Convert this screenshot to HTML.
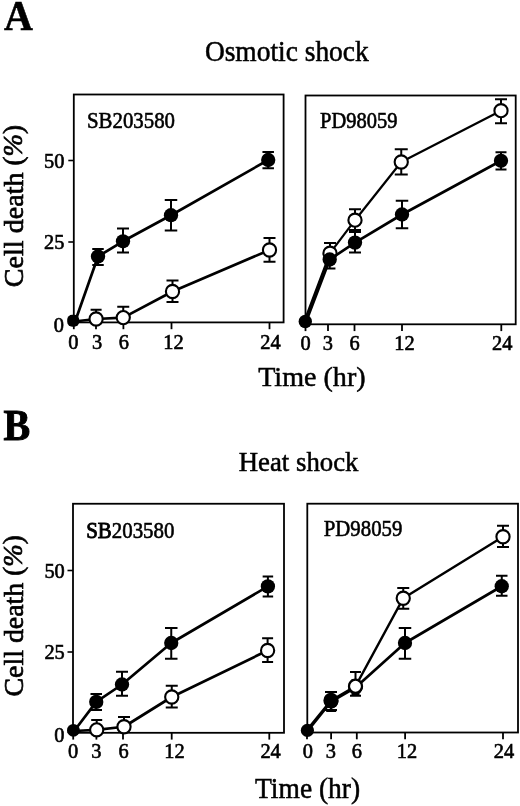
<!DOCTYPE html>
<html><head><meta charset="utf-8"><title>Figure</title>
<style>html,body{margin:0;padding:0;background:#fff}svg{display:block}</style>
</head><body>
<svg width="520" height="806" viewBox="0 0 520 806" font-family="'Liberation Serif', 'Times New Roman', serif" fill="#000">
<rect width="520" height="806" fill="#fff"/>
<text transform="translate(4 30) scale(1 1.08)" font-size="40" text-anchor="start" font-weight="bold" stroke="#000" stroke-width="0.5">A</text>
<text transform="translate(286.8 61.1) scale(1 1.05)" font-size="27.45" text-anchor="middle" stroke="#000" stroke-width="0.5">Osmotic shock</text>
<text transform="translate(22.9 206.1) rotate(-90) scale(1 1.0)" font-size="28.1" text-anchor="middle" stroke="#000" stroke-width="0.7">Cell death <tspan font-size="27" dy="-0.9">(</tspan><tspan font-size="27" font-style="italic">%</tspan><tspan font-size="27">)</tspan></text>
<text transform="translate(311.9 386.1) scale(1 0.96)" font-size="28.1" text-anchor="middle" stroke="#000" stroke-width="0.5">Time (hr)</text>
<rect x="73.8" y="94.5" width="209.8" height="227.89999999999998" fill="none" stroke="#000" stroke-width="1.8"/>
<line x1="68.3" y1="160.5" x2="73.8" y2="160.5" stroke="#000" stroke-width="1.6"/>
<text transform="translate(64.4 167.9) scale(1 1.07)" font-size="20.4" text-anchor="end" stroke="#000" stroke-width="0.6">50</text>
<line x1="68.3" y1="242" x2="73.8" y2="242" stroke="#000" stroke-width="1.6"/>
<text transform="translate(64.4 249.4) scale(1 1.07)" font-size="20.4" text-anchor="end" stroke="#000" stroke-width="0.6">25</text>
<line x1="68.3" y1="322" x2="73.8" y2="322" stroke="#000" stroke-width="1.6"/>
<text transform="translate(64.0 331.59999999999997) scale(1 1.07)" font-size="20.4" text-anchor="end" stroke="#000" stroke-width="0.6">0</text>
<line x1="73.8" y1="322.4" x2="73.8" y2="329.2" stroke="#000" stroke-width="1.8"/>
<text transform="translate(73.3 349.1) scale(1 1.06)" font-size="20.4" text-anchor="middle" stroke="#000" stroke-width="0.6">0</text>
<line x1="96" y1="322.4" x2="96" y2="329.2" stroke="#000" stroke-width="1.8"/>
<text transform="translate(97.1 349.1) scale(1 1.06)" font-size="20.4" text-anchor="middle" stroke="#000" stroke-width="0.6">3</text>
<line x1="123.4" y1="322.4" x2="123.4" y2="329.2" stroke="#000" stroke-width="1.8"/>
<text transform="translate(123.85 349.1) scale(1 1.06)" font-size="20.4" text-anchor="middle" stroke="#000" stroke-width="0.6">6</text>
<line x1="171.5" y1="322.4" x2="171.5" y2="329.2" stroke="#000" stroke-width="1.8"/>
<text transform="translate(173.5 349.1) scale(1 1.06)" font-size="20.4" text-anchor="middle" stroke="#000" stroke-width="0.6">12</text>
<line x1="269.5" y1="322.4" x2="269.5" y2="329.2" stroke="#000" stroke-width="1.8"/>
<text transform="translate(270.5 349.1) scale(1 1.06)" font-size="20.4" text-anchor="middle" stroke="#000" stroke-width="0.6">24</text>
<text transform="translate(87 128) scale(1 1.12)" font-size="20.85" text-anchor="start" stroke="#000" stroke-width="0.55">SB203580</text>
<path d="M96.1 309.8V319M90.6 309.8H101.6" stroke="#000" stroke-width="2.0" fill="none"/>
<path d="M123.25 306.75V317.6M117.25 306.75H129.25" stroke="#000" stroke-width="2.0" fill="none"/>
<path d="M172.5 280.5V302M166.5 280.5H178.5M166.5 302H178.5" stroke="#000" stroke-width="2.0" fill="none"/>
<path d="M269.5 238V261.7M263.5 238H275.5M263.5 261.7H275.5" stroke="#000" stroke-width="2.0" fill="none"/>
<path d="M74 321.5 L96.1 319 L123.25 317.6 L172.5 291.5 L269.5 250" stroke="#000" stroke-width="2.7" fill="none" stroke-linejoin="round"/>
<circle cx="96.1" cy="319" r="6.6000000000000005" fill="#fff" stroke="#000" stroke-width="2.1"/>
<circle cx="123.25" cy="317.6" r="6.6000000000000005" fill="#fff" stroke="#000" stroke-width="2.1"/>
<circle cx="172.5" cy="291.5" r="6.6000000000000005" fill="#fff" stroke="#000" stroke-width="2.1"/>
<circle cx="269.5" cy="250" r="6.6000000000000005" fill="#fff" stroke="#000" stroke-width="2.1"/>
<path d="M98 248.9V264.9M92.25 248.9H103.75M92.25 264.9H103.75" stroke="#000" stroke-width="2.0" fill="none"/>
<path d="M123 228.5V252.6M117.0 228.5H129.0M117.0 252.6H129.0" stroke="#000" stroke-width="2.0" fill="none"/>
<path d="M171 200V230.6M164.75 200H177.25M164.75 230.6H177.25" stroke="#000" stroke-width="2.0" fill="none"/>
<path d="M268.2 152V168.3M262.45 152H273.95M262.45 168.3H273.95" stroke="#000" stroke-width="2.0" fill="none"/>
<path d="M75.3 321 L98 256.5 L123 241.3 L171 215.2 L268.2 160" stroke="#000" stroke-width="2.7" fill="none" stroke-linejoin="round"/>
<circle cx="98" cy="256.5" r="7.15" fill="#000"/>
<circle cx="123" cy="241.3" r="7.15" fill="#000"/>
<circle cx="171" cy="215.2" r="7.15" fill="#000"/>
<circle cx="268.2" cy="160" r="7.15" fill="#000"/>
<rect x="67.2" y="314.8" width="12" height="12" rx="5" fill="#000"/>
<rect x="305.5" y="95.5" width="210.20000000000005" height="228.8" fill="none" stroke="#000" stroke-width="1.8"/>
<line x1="305.5" y1="324.3" x2="305.5" y2="331.1" stroke="#000" stroke-width="1.8"/>
<text transform="translate(305.5 350.2) scale(1 1.06)" font-size="20.4" text-anchor="middle" stroke="#000" stroke-width="0.6">0</text>
<line x1="328" y1="324.3" x2="328" y2="331.1" stroke="#000" stroke-width="1.8"/>
<text transform="translate(327.8 350.2) scale(1 1.06)" font-size="20.4" text-anchor="middle" stroke="#000" stroke-width="0.6">3</text>
<line x1="354.5" y1="324.3" x2="354.5" y2="331.1" stroke="#000" stroke-width="1.8"/>
<text transform="translate(354.5 350.2) scale(1 1.06)" font-size="20.4" text-anchor="middle" stroke="#000" stroke-width="0.6">6</text>
<line x1="402" y1="324.3" x2="402" y2="331.1" stroke="#000" stroke-width="1.8"/>
<text transform="translate(404.4 350.2) scale(1 1.06)" font-size="20.4" text-anchor="middle" stroke="#000" stroke-width="0.6">12</text>
<line x1="501.3" y1="324.3" x2="501.3" y2="331.1" stroke="#000" stroke-width="1.8"/>
<text transform="translate(502.2 350.2) scale(1 1.06)" font-size="20.4" text-anchor="middle" stroke="#000" stroke-width="0.6">24</text>
<text transform="translate(320 128) scale(1 1.12)" font-size="20.5" text-anchor="start" stroke="#000" stroke-width="0.55">PD98059</text>
<path d="M330 243V262M324.0 243H336.0M324.0 262H336.0" stroke="#000" stroke-width="2.0" fill="none"/>
<path d="M355 209.25V230M349.0 209.25H361.0M349.0 230H361.0" stroke="#000" stroke-width="2.0" fill="none"/>
<path d="M401.25 149.25V174.5M394.75 149.25H407.75M394.75 174.5H407.75" stroke="#000" stroke-width="2.0" fill="none"/>
<path d="M501 99.2V123.2M495.0 99.2H507.0M495.0 123.2H507.0" stroke="#000" stroke-width="2.0" fill="none"/>
<path d="M304.3 321.5 L330 253.2 L355 220.2 L401.25 162 L501 110.7" stroke="#000" stroke-width="2.2" fill="none" stroke-linejoin="round"/>
<circle cx="330" cy="253.2" r="6.6000000000000005" fill="#fff" stroke="#000" stroke-width="2.1"/>
<circle cx="355" cy="220.2" r="6.6000000000000005" fill="#fff" stroke="#000" stroke-width="2.1"/>
<circle cx="401.25" cy="162" r="6.6000000000000005" fill="#fff" stroke="#000" stroke-width="2.1"/>
<circle cx="501" cy="110.7" r="6.6000000000000005" fill="#fff" stroke="#000" stroke-width="2.1"/>
<path d="M329.7 256V268.4M323.95 256H335.45M323.95 268.4H335.45" stroke="#000" stroke-width="2.0" fill="none"/>
<path d="M355 232V252.5M349.0 232H361.0M349.0 252.5H361.0" stroke="#000" stroke-width="2.0" fill="none"/>
<path d="M402 200.75V228.25M395.75 200.75H408.25M395.75 228.25H408.25" stroke="#000" stroke-width="2.0" fill="none"/>
<path d="M501 152.2V169.5M495.5 152.2H506.5M495.5 169.5H506.5" stroke="#000" stroke-width="2.0" fill="none"/>
<path d="M306.3 321 L329.7 259.5 L355 242.6 L402 214.5 L501 160.8" stroke="#000" stroke-width="2.7" fill="none" stroke-linejoin="round"/>
<circle cx="329.7" cy="259.5" r="7.15" fill="#000"/>
<circle cx="355" cy="242.6" r="7.15" fill="#000"/>
<circle cx="402" cy="214.5" r="7.15" fill="#000"/>
<circle cx="501" cy="160.8" r="7.15" fill="#000"/>
<circle cx="305.3" cy="321.5" r="6.7" fill="#000"/>
<text transform="translate(3.6 440.3) scale(1 1.085)" font-size="40" text-anchor="start" font-weight="bold" stroke="#000" stroke-width="0.9">B</text>
<text transform="translate(298.6 470.8) scale(1 1.0)" font-size="26.75" text-anchor="middle" stroke="#000" stroke-width="0.5">Heat shock</text>
<text transform="translate(22.9 615.9) rotate(-90) scale(1 1.0)" font-size="27.85" text-anchor="middle" stroke="#000" stroke-width="0.7">Cell death <tspan font-size="27" dy="-0.9">(</tspan><tspan font-size="27" font-style="italic">%</tspan><tspan font-size="27">)</tspan></text>
<text transform="translate(307.6 798.4) scale(1 1.06)" font-size="27.5" text-anchor="middle" stroke="#000" stroke-width="0.5">Time (hr)</text>
<rect x="73.0" y="503.75" width="211.0" height="229.04999999999995" fill="none" stroke="#000" stroke-width="1.8"/>
<line x1="67.5" y1="570.5" x2="73.0" y2="570.5" stroke="#000" stroke-width="1.6"/>
<text transform="translate(64.8 577.9) scale(1 1.07)" font-size="20.4" text-anchor="end" stroke="#000" stroke-width="0.6">50</text>
<line x1="67.5" y1="652" x2="73.0" y2="652" stroke="#000" stroke-width="1.6"/>
<text transform="translate(64.8 659.4) scale(1 1.07)" font-size="20.4" text-anchor="end" stroke="#000" stroke-width="0.6">25</text>
<line x1="67.5" y1="732" x2="73.0" y2="732" stroke="#000" stroke-width="1.6"/>
<text transform="translate(64.4 742.0) scale(1 1.07)" font-size="20.4" text-anchor="end" stroke="#000" stroke-width="0.6">0</text>
<line x1="73.2" y1="732.8" x2="73.2" y2="739.5999999999999" stroke="#000" stroke-width="1.8"/>
<text transform="translate(73.2 758.4) scale(1 1.06)" font-size="20.4" text-anchor="middle" stroke="#000" stroke-width="0.6">0</text>
<line x1="96.4" y1="732.8" x2="96.4" y2="739.5999999999999" stroke="#000" stroke-width="1.8"/>
<text transform="translate(96.4 758.4) scale(1 1.06)" font-size="20.4" text-anchor="middle" stroke="#000" stroke-width="0.6">3</text>
<line x1="123" y1="732.8" x2="123" y2="739.5999999999999" stroke="#000" stroke-width="1.8"/>
<text transform="translate(123.5 758.4) scale(1 1.06)" font-size="20.4" text-anchor="middle" stroke="#000" stroke-width="0.6">6</text>
<line x1="171.7" y1="732.8" x2="171.7" y2="739.5999999999999" stroke="#000" stroke-width="1.8"/>
<text transform="translate(174.4 758.4) scale(1 1.06)" font-size="20.4" text-anchor="middle" stroke="#000" stroke-width="0.6">12</text>
<line x1="269.3" y1="732.8" x2="269.3" y2="739.5999999999999" stroke="#000" stroke-width="1.8"/>
<text transform="translate(270.6 758.4) scale(1 1.06)" font-size="20.4" text-anchor="middle" stroke="#000" stroke-width="0.6">24</text>
<text transform="translate(86.2 537.5) scale(1 1.08)" font-size="20.9" text-anchor="start" stroke="#000" stroke-width="0.55"><tspan stroke-width="0.85">SB</tspan>203580</text>
<path d="M96.7 720.0V729.8M91.2 720.0H102.2" stroke="#000" stroke-width="2.0" fill="none"/>
<path d="M124 717V726.75M118.0 717H130.0" stroke="#000" stroke-width="2.0" fill="none"/>
<path d="M171.75 685.75V707.5M165.75 685.75H177.75M165.75 707.5H177.75" stroke="#000" stroke-width="2.0" fill="none"/>
<path d="M267.6 638.2V662M262.1 638.2H273.1M262.1 662H273.1" stroke="#000" stroke-width="2.0" fill="none"/>
<path d="M74 731 L96.7 729.8 L124 726.75 L171.75 697 L267.6 650.5" stroke="#000" stroke-width="2.7" fill="none" stroke-linejoin="round"/>
<circle cx="96.7" cy="729.8" r="6.6000000000000005" fill="#fff" stroke="#000" stroke-width="2.1"/>
<circle cx="124" cy="726.75" r="6.6000000000000005" fill="#fff" stroke="#000" stroke-width="2.1"/>
<circle cx="171.75" cy="697" r="6.6000000000000005" fill="#fff" stroke="#000" stroke-width="2.1"/>
<circle cx="267.6" cy="650.5" r="6.6000000000000005" fill="#fff" stroke="#000" stroke-width="2.1"/>
<path d="M96.25 694V710M90.5 694H102.0M90.5 710H102.0" stroke="#000" stroke-width="2.0" fill="none"/>
<path d="M122 671.75V695.75M116.0 671.75H128.0M116.0 695.75H128.0" stroke="#000" stroke-width="2.0" fill="none"/>
<path d="M171.25 628V658.75M165.0 628H177.5M165.0 658.75H177.5" stroke="#000" stroke-width="2.0" fill="none"/>
<path d="M267.9 576.4V596.6M262.65 576.4H273.15M262.65 596.6H273.15" stroke="#000" stroke-width="2.0" fill="none"/>
<path d="M74.5 730.5 L96.25 701.9 L122 684.5 L171.25 643 L267.9 586.4" stroke="#000" stroke-width="2.7" fill="none" stroke-linejoin="round"/>
<circle cx="96.25" cy="701.9" r="7.15" fill="#000"/>
<circle cx="122" cy="684.5" r="7.15" fill="#000"/>
<circle cx="171.25" cy="643" r="7.15" fill="#000"/>
<circle cx="267.9" cy="586.4" r="7.15" fill="#000"/>
<circle cx="73.4" cy="730.3" r="6.4" fill="#000"/>
<rect x="307.3" y="503.7" width="210.7" height="228.8" fill="none" stroke="#000" stroke-width="1.8"/>
<line x1="307" y1="732.5" x2="307" y2="739.3" stroke="#000" stroke-width="1.8"/>
<text transform="translate(307.8 757.9) scale(1 1.06)" font-size="20.4" text-anchor="middle" stroke="#000" stroke-width="0.6">0</text>
<line x1="331.1" y1="732.5" x2="331.1" y2="739.3" stroke="#000" stroke-width="1.8"/>
<text transform="translate(330.8 757.9) scale(1 1.06)" font-size="20.4" text-anchor="middle" stroke="#000" stroke-width="0.6">3</text>
<line x1="356.8" y1="732.5" x2="356.8" y2="739.3" stroke="#000" stroke-width="1.8"/>
<text transform="translate(356.8 757.9) scale(1 1.06)" font-size="20.4" text-anchor="middle" stroke="#000" stroke-width="0.6">6</text>
<line x1="405.1" y1="732.5" x2="405.1" y2="739.3" stroke="#000" stroke-width="1.8"/>
<text transform="translate(407 757.9) scale(1 1.06)" font-size="20.4" text-anchor="middle" stroke="#000" stroke-width="0.6">12</text>
<line x1="503" y1="732.5" x2="503" y2="739.3" stroke="#000" stroke-width="1.8"/>
<text transform="translate(504 757.9) scale(1 1.06)" font-size="20.4" text-anchor="middle" stroke="#000" stroke-width="0.6">24</text>
<text transform="translate(323.8 536.2) scale(1 1.065)" font-size="20.8" text-anchor="start" stroke="#000" stroke-width="0.55">PD98059</text>
<path d="M331 692V710M325.0 692H337.0M325.0 710H337.0" stroke="#000" stroke-width="2.0" fill="none"/>
<path d="M355.5 672V695.75M350.0 672H361.0M350.0 695.75H361.0" stroke="#000" stroke-width="2.0" fill="none"/>
<path d="M403.25 588V608.75M397.25 588H409.25M397.25 608.75H409.25" stroke="#000" stroke-width="2.0" fill="none"/>
<path d="M503 525.75V547M497.0 525.75H509.0M497.0 547H509.0" stroke="#000" stroke-width="2.0" fill="none"/>
<path d="M306.6 730.5 L331 700.5 L355.5 686.25 L403.25 598.25 L503 536.75" stroke="#000" stroke-width="2.5" fill="none" stroke-linejoin="round"/>
<circle cx="331" cy="700.5" r="6.6000000000000005" fill="#fff" stroke="#000" stroke-width="2.1"/>
<circle cx="355.5" cy="686.25" r="6.6000000000000005" fill="#fff" stroke="#000" stroke-width="2.1"/>
<circle cx="403.25" cy="598.25" r="6.6000000000000005" fill="#fff" stroke="#000" stroke-width="2.1"/>
<circle cx="503" cy="536.75" r="6.6000000000000005" fill="#fff" stroke="#000" stroke-width="2.1"/>
<path d="M331.2 699V711M326.2 699H336.2M326.2 711H336.2" stroke="#000" stroke-width="2.0" fill="none"/>
<path d="M355.5 680V694M351.5 680H359.5M351.5 694H359.5" stroke="#000" stroke-width="2.0" fill="none"/>
<path d="M405 628V658.75M398.75 628H411.25M398.75 658.75H411.25" stroke="#000" stroke-width="2.0" fill="none"/>
<path d="M501.75 575.75V595.75M496.0 575.75H507.5M496.0 595.75H507.5" stroke="#000" stroke-width="2.0" fill="none"/>
<path d="M308.4 730 L331.2 701.5 L355.5 687.5 L405 643 L501.75 586.25" stroke="#000" stroke-width="2.7" fill="none" stroke-linejoin="round"/>
<circle cx="331.2" cy="701.5" r="7.15" fill="#000"/>
<circle cx="355.5" cy="687.5" r="7.15" fill="#000"/>
<circle cx="405" cy="643" r="7.15" fill="#000"/>
<circle cx="501.75" cy="586.25" r="7.15" fill="#000"/>
<circle cx="307.4" cy="730.4" r="6.6" fill="#000"/>
<circle cx="355.5" cy="686.25" r="6.4" fill="#fff" stroke="#000" stroke-width="2"/>
</svg>
</body></html>
